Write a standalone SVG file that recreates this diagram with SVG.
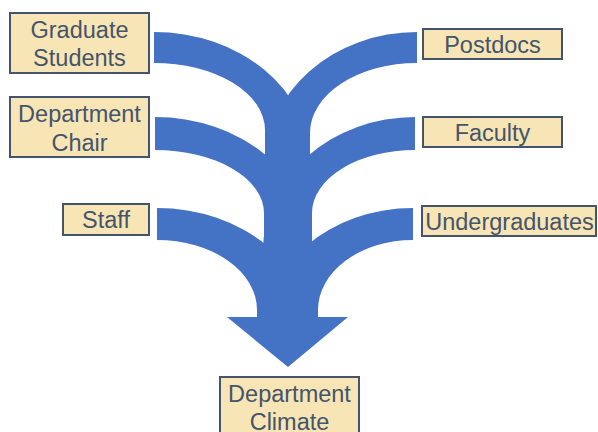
<svg xmlns="http://www.w3.org/2000/svg" width="598" height="432" viewBox="0 0 598 432">
  <style>
    .band { fill: #4472C4; stroke: none; }
    .box { fill: #F8E5B5; stroke: #44546A; stroke-width: 2; }
    .label { font-family: "Liberation Sans", Arial, sans-serif; font-size: 23.5px; fill: #44546A; text-anchor: middle; }
  </style>
  <rect width="598" height="432" fill="#FFFFFF"/>

  <!-- connectors: curved bands merging into one downward arrow -->
  <g id="connectors">
    <!-- top tier -->
    <path class="band" d="M154,32 A156,129 0 0 1 310,161 L310,200 L265,200 L265,130 A111,67 0 0 0 154,63 Z"/>
    <path class="band" d="M417,32 A152,134 0 0 0 265,166 L265,200 L310,200 L310,133 A107,70 0 0 1 417,63 Z"/>
    <!-- middle tier -->
    <path class="band" d="M155,117 A156,129 0 0 1 311,246 L311,280 L264,280 L264,213 A109,63 0 0 0 155,150 Z"/>
    <path class="band" d="M415,117 A152,134 0 0 0 263,251 L263,280 L312,280 L312,213 A103,63 0 0 1 415,150 Z"/>
    <!-- bottom tier -->
    <path class="band" d="M157,208 A156,129 0 0 1 313,337 L257,337 L257,310 A100,70 0 0 0 157,240 Z"/>
    <path class="band" d="M413,208 A151,129 0 0 0 262,337 L318,337 L318,310 A95,70 0 0 1 413,240 Z"/>
    <!-- arrowhead -->
    <polygon class="band" points="227,317 348,317 288,367"/>
  </g>

  <g id="graduate-students">
    <rect class="box" x="10" y="13" width="139" height="60"/>
    <text class="label" x="79.5" y="37.5">Graduate</text>
    <text class="label" x="79.5" y="65.5">Students</text>
  </g>

  <g id="department-chair">
    <rect class="box" x="10" y="97" width="139" height="60"/>
    <text class="label" x="79.5" y="122">Department</text>
    <text class="label" x="79.5" y="150.5">Chair</text>
  </g>

  <g id="staff">
    <rect class="box" x="63" y="204" width="86" height="31"/>
    <text class="label" x="106" y="227.5">Staff</text>
  </g>

  <g id="postdocs">
    <rect class="box" x="423" y="29" width="139" height="30"/>
    <text class="label" x="492.5" y="53">Postdocs</text>
  </g>

  <g id="faculty">
    <rect class="box" x="423" y="117" width="139" height="30"/>
    <text class="label" x="492.5" y="140.5">Faculty</text>
  </g>

  <g id="undergraduates">
    <rect class="box" x="422" y="206" width="174" height="30"/>
    <text class="label" x="509.5" y="229.5">Undergraduates</text>
  </g>

  <g id="department-climate">
    <rect class="box" x="220" y="377" width="139" height="62"/>
    <text class="label" x="289.5" y="401.5">Department</text>
    <text class="label" x="289.5" y="429.5">Climate</text>
  </g>
</svg>
